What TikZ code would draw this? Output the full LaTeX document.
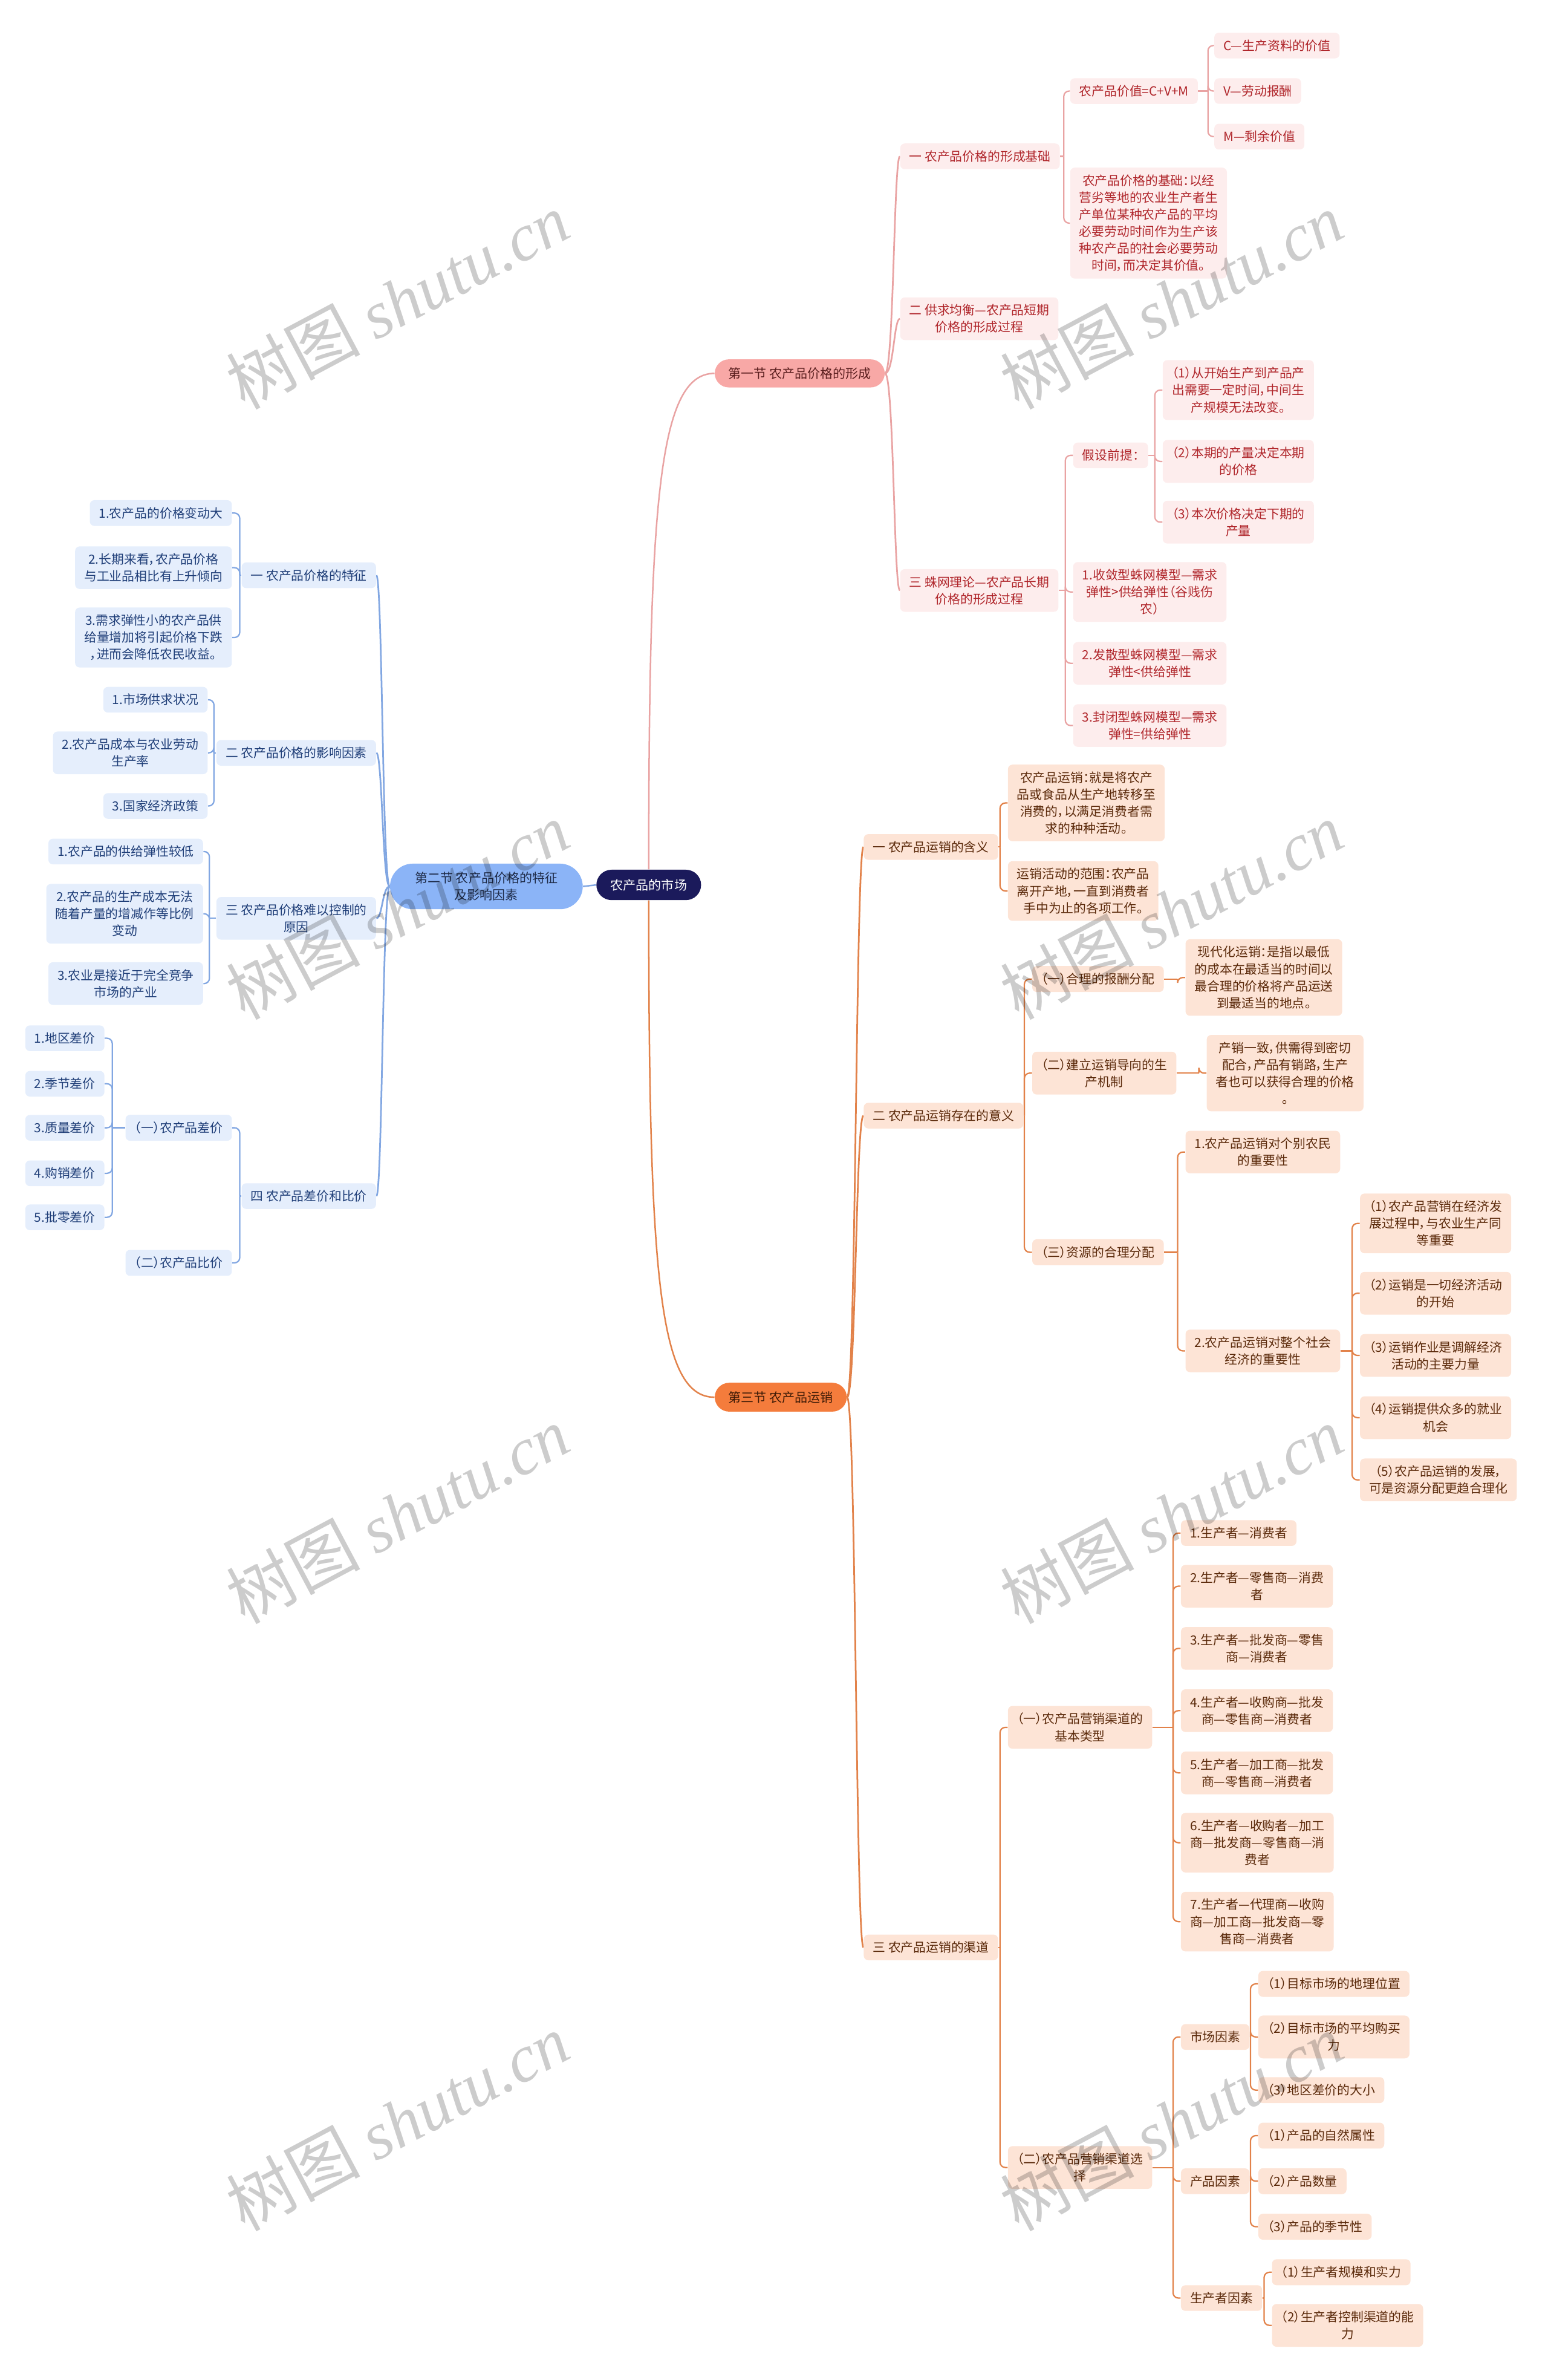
\documentclass[tikz,border=0pt]{standalone}
\usepackage{fontspec}
\setmainfont{Noto Sans CJK SC}[RawFeature={+palt}]
\newfontfamily\wmcjk{Noto Sans CJK SC}
\newfontfamily\wmlat{Liberation Serif}
\usetikzlibrary{calc,backgrounds}
\definecolor{pkfill}{HTML}{FDEDED}
\definecolor{pktext}{HTML}{B0262B}
\definecolor{pkline}{HTML}{E9A3A3}
\definecolor{pkmain}{HTML}{F8A8A6}
\definecolor{pkmaintext}{HTML}{5A1E1E}
\definecolor{orfill}{HTML}{FDE4D6}
\definecolor{ortext}{HTML}{5B2A0B}
\definecolor{orline}{HTML}{E2824A}
\definecolor{ormain}{HTML}{F47C3C}
\definecolor{ormaintext}{HTML}{3D1A06}
\definecolor{blfill}{HTML}{E5EEFC}
\definecolor{bltext}{HTML}{1F3E78}
\definecolor{blline}{HTML}{82A7E2}
\definecolor{blmain}{HTML}{8BB4F7}
\definecolor{blmaintext}{HTML}{1E2B48}
\definecolor{rootfill}{HTML}{1B1A5B}
% elbow connectors: style, parent, trunk x, children
\newcommand{\elbR}[4]{%
  \coordinate (mmT) at (#3,0);
  \draw[#1] (#2.east) -- (#2.east -| mmT);
  \foreach \mmc in {#4}{\draw[#1,rounded corners=3.5] (#2.east -| mmT) |- (\mmc.west);}
}
\newcommand{\elbL}[4]{%
  \coordinate (mmT) at (#3,0);
  \draw[#1] (#2.west) -- (#2.west -| mmT);
  \foreach \mmc in {#4}{\draw[#1,rounded corners=3.5] (#2.west -| mmT) |- (\mmc.east);}
}
\newcommand{\crvR}[4]{%
  \coordinate (mmT) at (#3,0);
  \foreach \mmc in {#4}{\draw[#1] (#2.east) .. controls (#2.east -| mmT) and (\mmc.west -| mmT) .. (\mmc.west);}
}
\newcommand{\crvL}[4]{%
  \coordinate (mmT) at (#3,0);
  \foreach \mmc in {#4}{\draw[#1] (#2.west) .. controls (#2.west -| mmT) and (\mmc.east -| mmT) .. (\mmc.east);}
}
\begin{document}
\begin{tikzpicture}[x=1pt,y=-1pt,
  base/.style={rounded corners=3, inner xsep=6, inner ysep=4.6, align=center, font=\fontsize{8.3}{11.2}\selectfont},
  pknode/.style={base, fill=pkfill, text=pktext},
  ornode/.style={base, fill=orfill, text=ortext},
  blnode/.style={base, fill=blfill, text=bltext},
  pkl/.style={draw=pkline, line width=0.9},
  orl/.style={draw=orline, line width=0.9},
  bll/.style={draw=blline, line width=0.9},
  pkc/.style={draw=pkline, line width=1.1},
  orc/.style={draw=orline, line width=1.1},
  blc/.style={draw=blline, line width=1.1},
  mainst/.style={align=center, inner sep=0, font=\fontsize{8.4}{11.2}\selectfont},
  wm/.style={rotate=28, text=black, text opacity=0.2, inner sep=0}
]
\useasboundingbox (0,0) rectangle (1020,1568);

% ---------- root and sections ----------
\node[mainst, fill=rootfill, text=white, minimum width=69, minimum height=20, rounded corners=10] (root) at (427.5,583) {农产品的市场};
\node[mainst, fill=pkmain, text=pkmaintext, minimum width=112, minimum height=18.5, rounded corners=9.25] (s1) at (527,246) {第一节 农产品价格的形成};
\node[mainst, fill=ormain, text=ormaintext, minimum width=87, minimum height=19, rounded corners=9.5] (s3) at (514.5,920.5) {第三节 农产品运销};
\node[mainst, fill=blmain, text=blmaintext, minimum width=127, minimum height=30, rounded corners=15] (s2) at (320.5,584) {第二节 农产品价格的特征\\及影响因素};

% ---------- section 1 (pink) ----------
\node[pknode, anchor=west] (p1) at (593,103) {一 农产品价格的形成基础};
\node[pknode, anchor=west] (p2) at (593,210) {二 供求均衡—农产品短期\\价格的形成过程};
\node[pknode, anchor=west] (p3) at (593,389) {三 蛛网理论—农产品长期\\价格的形成过程};
\node[pknode, anchor=west] (p11) at (705,60) {农产品价值=C+V+M};
\node[pknode, anchor=west] (p12) at (705,147) {农产品价格的基础：以经\\营劣等地的农业生产者生\\产单位某种农产品的平均\\必要劳动时间作为生产该\\种农产品的社会必要劳动\\时间，而决定其价值。};
\node[pknode, anchor=west] (p111) at (800,30) {C—生产资料的价值};
\node[pknode, anchor=west] (p112) at (800,60) {V—劳动报酬};
\node[pknode, anchor=west] (p113) at (800,90) {M—剩余价值};
\node[pknode, anchor=west] (p31) at (707,300) {假设前提：};
\node[pknode, anchor=west] (p32) at (707,390) {1.收敛型蛛网模型—需求\\弹性>供给弹性（谷贱伤\\农）};
\node[pknode, anchor=west] (p33) at (707,437) {2.发散型蛛网模型—需求\\弹性<供给弹性};
\node[pknode, anchor=west] (p34) at (707,478) {3.封闭型蛛网模型—需求\\弹性=供给弹性};
\node[pknode, anchor=west] (p311) at (766,257) {（1）从开始生产到产品产\\出需要一定时间，中间生\\产规模无法改变。};
\node[pknode, anchor=west] (p312) at (766,304) {（2）本期的产量决定本期\\的价格};
\node[pknode, anchor=west] (p313) at (766,344) {（3）本次价格决定下期的\\产量};

% ---------- section 3 (orange) ----------
\node[ornode, anchor=west] (o1) at (569,558) {一 农产品运销的含义};
\node[ornode, anchor=west] (o2) at (569,735) {二 农产品运销存在的意义};
\node[ornode, anchor=west] (o3) at (569,1283) {三 农产品运销的渠道};
\node[ornode, anchor=west] (o11) at (664,529) {农产品运销：就是将农产\\品或食品从生产地转移至\\消费的，以满足消费者需\\求的种种活动。};
\node[ornode, anchor=west] (o12) at (664,587) {运销活动的范围：农产品\\离开产地，一直到消费者\\手中为止的各项工作。};
\node[ornode, anchor=west] (o21) at (680,645) {（一）合理的报酬分配};
\node[ornode, anchor=west] (o22) at (680,707) {（二）建立运销导向的生\\产机制};
\node[ornode, anchor=west] (o23) at (680,825) {（三）资源的合理分配};
\node[ornode, anchor=west] (o211) at (781,644) {现代化运销：是指以最低\\的成本在最适当的时间以\\最合理的价格将产品运送\\到最适当的地点。};
\node[ornode, anchor=west] (o221) at (795,707) {产销一致，供需得到密切\\配合，产品有销路，生产\\者也可以获得合理的价格\\。};
\node[ornode, anchor=west] (o231) at (781,759) {1.农产品运销对个别农民\\的重要性};
\node[ornode, anchor=west] (o232) at (781,890) {2.农产品运销对整个社会\\经济的重要性};
\node[ornode, anchor=west] (o2321) at (896,806) {（1）农产品营销在经济发\\展过程中，与农业生产同\\等重要};
\node[ornode, anchor=west] (o2322) at (896,852) {（2）运销是一切经济活动\\的开始};
\node[ornode, anchor=west] (o2323) at (896,893) {（3）运销作业是调解经济\\活动的主要力量};
\node[ornode, anchor=west] (o2324) at (896,934) {（4）运销提供众多的就业\\机会};
\node[ornode, anchor=west] (o2325) at (896,975) {（5）农产品运销的发展，\\可是资源分配更趋合理化};
\node[ornode, anchor=west] (o31) at (664,1138) {（一）农产品营销渠道的\\基本类型};
\node[ornode, anchor=west] (o32) at (664,1428) {（二）农产品营销渠道选\\择};
\node[ornode, anchor=west] (o311) at (778,1010) {1.生产者—消费者};
\node[ornode, anchor=west] (o312) at (778,1045) {2.生产者—零售商—消费\\者};
\node[ornode, anchor=west] (o313) at (778,1086) {3.生产者—批发商—零售\\商—消费者};
\node[ornode, anchor=west] (o314) at (778,1127) {4.生产者—收购商—批发\\商—零售商—消费者};
\node[ornode, anchor=west] (o315) at (778,1168) {5.生产者—加工商—批发\\商—零售商—消费者};
\node[ornode, anchor=west] (o316) at (778,1214) {6.生产者—收购者—加工\\商—批发商—零售商—消\\费者};
\node[ornode, anchor=west] (o317) at (778,1266) {7.生产者—代理商—收购\\商—加工商—批发商—零\\售商—消费者};
\node[ornode, anchor=west] (o321) at (778,1342) {市场因素};
\node[ornode, anchor=west] (o322) at (778,1437) {产品因素};
\node[ornode, anchor=west] (o323) at (778,1514) {生产者因素};
\node[ornode, anchor=west] (o3211) at (829,1307) {（1）目标市场的地理位置};
\node[ornode, anchor=west] (o3212) at (829,1342) {（2）目标市场的平均购买\\力};
\node[ornode, anchor=west] (o3213) at (829,1377) {（3）地区差价的大小};
\node[ornode, anchor=west] (o3221) at (829,1407) {（1）产品的自然属性};
\node[ornode, anchor=west] (o3222) at (829,1437) {（2）产品数量};
\node[ornode, anchor=west] (o3223) at (829,1467) {（3）产品的季节性};
\node[ornode, anchor=west] (o3231) at (838,1497) {（1）生产者规模和实力};
\node[ornode, anchor=west] (o3232) at (838,1532) {（2）生产者控制渠道的能\\力};

% ---------- section 2 (blue, left) ----------
\node[blnode, anchor=east] (b1) at (248,379) {一 农产品价格的特征};
\node[blnode, anchor=east] (b2) at (248,496) {二 农产品价格的影响因素};
\node[blnode, anchor=east] (b3) at (248,605) {三 农产品价格难以控制的\\原因};
\node[blnode, anchor=east] (b4) at (248,788) {四 农产品差价和比价};
\node[blnode, anchor=east] (b11) at (153,338) {1.农产品的价格变动大};
\node[blnode, anchor=east] (b12) at (153,374) {2.长期来看，农产品价格\\与工业品相比有上升倾向};
\node[blnode, anchor=east] (b13) at (153,420) {3.需求弹性小的农产品供\\给量增加将引起价格下跌\\，进而会降低农民收益。};
\node[blnode, anchor=east] (b21) at (137,461) {1.市场供求状况};
\node[blnode, anchor=east] (b22) at (137,496) {2.农产品成本与农业劳动\\生产率};
\node[blnode, anchor=east] (b23) at (137,531) {3.国家经济政策};
\node[blnode, anchor=east] (b31) at (134,561) {1.农产品的供给弹性较低};
\node[blnode, anchor=east] (b32) at (134,602) {2.农产品的生产成本无法\\随着产量的增减作等比例\\变动};
\node[blnode, anchor=east] (b33) at (134,648) {3.农业是接近于完全竞争\\市场的产业};
\node[blnode, anchor=east] (b41) at (153,743) {（一）农产品差价};
\node[blnode, anchor=east] (b42) at (153,832) {（二）农产品比价};
\node[blnode, anchor=east] (b411) at (69,684) {1.地区差价};
\node[blnode, anchor=east] (b412) at (69,714) {2.季节差价};
\node[blnode, anchor=east] (b413) at (69,743) {3.质量差价};
\node[blnode, anchor=east] (b414) at (69,773) {4.购销差价};
\node[blnode, anchor=east] (b415) at (69,802) {5.批零差价};

% ---------- connectors ----------
\begin{scope}[on background layer]
\draw[draw=pkline, line width=1] (root.north) .. controls (427.5,330) and (434,246) .. (s1.west);
\draw[draw=orline, line width=1] (root.south) .. controls (427.5,840) and (434,920.5) .. (s3.west);
\draw[draw=blline, line width=1] (root.west) -- (s2.east);

\crvR{pkc}{s1}{589}{p1,p2,p3}
\elbR{pkl}{p1}{701}{p11,p12}
\elbR{pkl}{p11}{796}{p111,p112,p113}
\elbR{pkl}{p3}{702}{p31,p32,p33,p34}
\elbR{pkl}{p31}{761}{p311,p312,p313}

\crvR{orc}{s3}{564}{o1,o2,o3}
\elbR{orl}{o1}{659}{o11,o12}
\elbR{orl}{o2}{675}{o21,o22,o23}
\elbR{orl}{o21}{776}{o211}
\elbR{orl}{o22}{790}{o221}
\elbR{orl}{o23}{776}{o231,o232}
\elbR{orl}{o232}{891}{o2321,o2322,o2323,o2324,o2325}
\elbR{orl}{o3}{659}{o31,o32}
\elbR{orl}{o31}{773}{o311,o312,o313,o314,o315,o316,o317}
\elbR{orl}{o32}{773}{o321,o322,o323}
\elbR{orl}{o321}{824}{o3211,o3212,o3213}
\elbR{orl}{o322}{824}{o3221,o3222,o3223}
\elbR{orl}{o323}{833}{o3231,o3232}

\crvL{blc}{s2}{252}{b1,b2,b3,b4}
\elbL{bll}{b1}{158}{b11,b12,b13}
\elbL{bll}{b2}{141}{b21,b22,b23}
\elbL{bll}{b3}{138}{b31,b32,b33}
\elbL{bll}{b4}{158}{b41,b42}
\elbL{bll}{b41}{74}{b411,b412,b413,b414,b415}
\end{scope}

% ---------- watermarks ----------
\foreach \wx/\wy in {262/198, 772/198, 262/600, 772/600, 262/998, 772/998, 262/1398, 772/1398}{
  \node[wm] at (\wx,\wy) {\fontsize{44}{44}\selectfont{\wmcjk 树图} {\wmlat\itshape shutu.cn}};
}
\end{tikzpicture}
\end{document}
